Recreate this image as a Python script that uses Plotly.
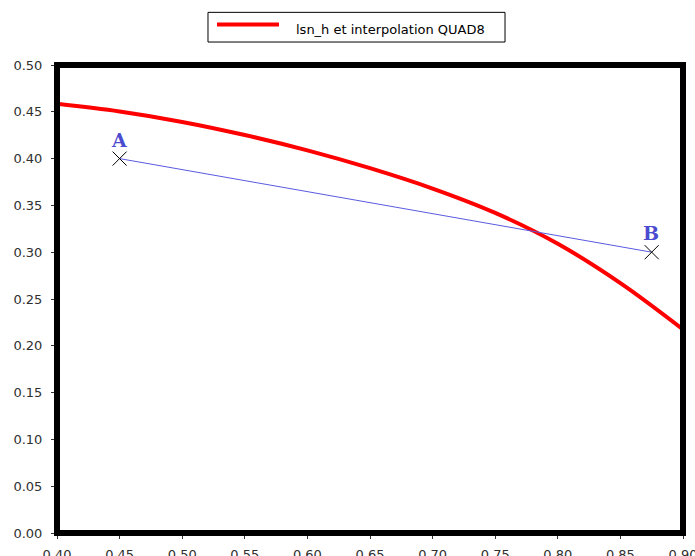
import plotly.graph_objects as go

# Iso-line lsn_h sampled along x
curve_x = [0.40, 0.45, 0.50, 0.55, 0.60, 0.65, 0.70, 0.75, 0.80, 0.85, 0.90]
curve_y = [0.4585, 0.4503, 0.4392, 0.4252, 0.4088, 0.3898, 0.3680, 0.3420, 0.3090, 0.2670, 0.2175]

# Segment endpoints
seg_labels = ["A", "B"]
seg_x = [0.45, 0.875]
seg_y = [0.40, 0.30]

legend_name = "lsn_h et interpolation QUAD8"

x_ticks = [0.40, 0.45, 0.50, 0.55, 0.60, 0.65, 0.70, 0.75, 0.80, 0.85, 0.90]
y_ticks = [0.00, 0.05, 0.10, 0.15, 0.20, 0.25, 0.30, 0.35, 0.40, 0.45, 0.50]

RED = "#ff0000"
BLUE = "#5a5ae0"
LABEL_BLUE = "#4b4bcf"

fig = go.Figure()

fig.add_trace(go.Scatter(
    x=curve_x, y=curve_y, mode="lines",
    line=dict(color=RED, width=4, shape="spline", smoothing=1.0),
    name=legend_name, showlegend=False, cliponaxis=True,
))

fig.add_trace(go.Scatter(
    x=seg_x, y=seg_y, mode="lines+markers",
    line=dict(color=BLUE, width=1),
    marker=dict(symbol="x-thin", size=14, color="black",
                line=dict(color="black", width=1)),
    showlegend=False,
))

for lab, px, py in zip(seg_labels, seg_x, seg_y):
    fig.add_annotation(
        x=px, y=py, text="<b>%s</b>" % lab, showarrow=False,
        yshift=19, xshift=-1,
        font=dict(family="DejaVu Serif", size=19, color=LABEL_BLUE),
    )

# Hand-drawn legend box above the plot
fig.add_shape(type="rect", xref="paper", yref="paper",
              x0=0.2412, x1=0.7157, y0=1.0491, y1=1.1125,
              line=dict(color="black", width=1), fillcolor="white")
fig.add_shape(type="line", xref="paper", yref="paper",
              x0=0.2556, x1=0.3546, y0=1.0866, y1=1.0866,
              line=dict(color=RED, width=4))
fig.add_annotation(xref="paper", yref="paper", x=0.3785, y=1.0750,
                   xanchor="left", yanchor="middle", showarrow=False,
                   text=legend_name,
                   font=dict(family="DejaVu Sans", size=13, color="black"))

# Thick frame around the plotting area
fig.add_shape(type="rect", xref="paper", yref="paper",
              x0=0, x1=1, y0=0, y1=1,
              line=dict(color="black", width=6), layer="above")

axis_common = dict(
    showgrid=False, zeroline=False, showline=False, automargin=False,
    ticks="outside", ticklen=5, tickwidth=1, tickcolor="#333333",
    tickfont=dict(family="DejaVu Sans", size=13, color="#303030"),
    tickformat=".2f", ticklabeloverflow="allow",
)

fig.update_layout(
    width=695, height=556,
    margin=dict(l=57, r=12, t=65, b=23),
    paper_bgcolor="white", plot_bgcolor="white",
    xaxis=dict(range=[0.40, 0.90], tickvals=x_ticks,
               ticklabelstandoff=4, **axis_common),
    yaxis=dict(range=[0.00, 0.50], tickvals=y_ticks,
               ticklabelstandoff=6, **axis_common),
    showlegend=False,
)

fig.write_html("out.html")
